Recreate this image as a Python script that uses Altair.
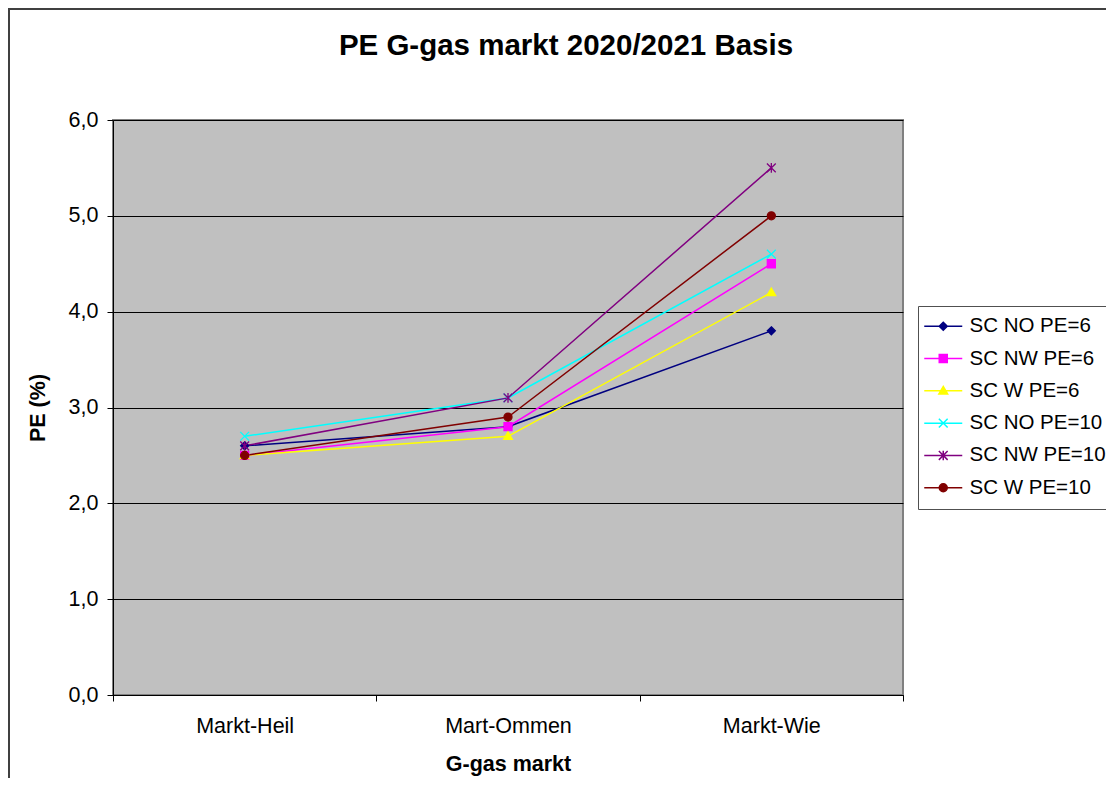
import altair as alt
import pandas as pd

markets = ["Markt-Heil", "Mart-Ommen", "Markt-Wie"]
series = ["SC NO PE=6", "SC NW PE=6", "SC W PE=6", "SC NO PE=10", "SC NW PE=10", "SC W PE=10"]
colors = ["#000080", "#FF00FF", "#FFFF00", "#00FFFF", "#800080", "#800000"]

no6 = [2.6, 2.8, 3.8]
nw6 = [2.5, 2.8, 4.5]
w6 = [2.5, 2.7, 4.2]
no10 = [2.7, 3.1, 4.6]
nw10 = [2.6, 3.1, 5.5]
w10 = [2.5, 2.9, 5.0]
values = [no6, nw6, w6, no10, nw10, w10]

rows = []
for s, vals in zip(series, values):
    for i, (m, v) in enumerate(zip(markets, vals)):
        rows.append({"market": m, "idx": i, "series": s, "value": v})
df = pd.DataFrame(rows)

# marker shapes (unit box -1..1)
diamond = "M0,-1L1,0L0,1L-1,0Z"
square = "M-1,-1L1,-1L1,1L-1,1Z"
triangle = "M0,-1.1L1.1,0.8L-1.1,0.8Z"
xmark = "M-1.1,-1.1L1.1,1.1M-1.1,1.1L1.1,-1.1"
aster = "M-1.1,-1.1L1.1,1.1M-1.1,1.1L1.1,-1.1M0,-1.2L0,1.2"
circle = "M1,0A1,1,0,1,1,-1,0A1,1,0,1,1,1,0Z"
markers = [diamond, square, triangle, xmark, aster, circle]
seg = "M-4.75,0L4.75,0"
legend_shapes = [seg + m for m in markers]

FONT = "Liberation Sans"
FS = 21.5

x_enc = alt.X(
    "market:N",
    sort=markets,
    bandPosition=0.5,
    scale=alt.Scale(type="band", paddingInner=0, paddingOuter=0),
    axis=alt.Axis(
        title="G-gas markt", tickBand="extent", labelAngle=0, grid=False,
        labelFontSize=FS, labelFont=FONT, labelColor="#000000",
        titleFontSize=FS, titleFont=FONT, titleFontWeight="bold", titleColor="#000000",
        tickColor="#000000", tickSize=6, domainColor="#000000",
        labelPadding=14, titlePadding=17,
    ),
)
y_enc = alt.Y(
    "value:Q",
    scale=alt.Scale(domain=[0, 6]),
    axis=alt.Axis(
        title="PE (%)", values=[0, 1, 2, 3, 4, 5, 6],
        labelExpr="replace(format(datum.value, '.1f'), '.', ',')",
        grid=True, gridColor="#000000", gridWidth=1,
        labelFontSize=FS, labelFont=FONT, labelColor="#000000",
        titleFontSize=FS, titleFont=FONT, titleFontWeight="bold", titleColor="#000000",
        tickColor="#000000", tickSize=6, domainColor="#000000",
        labelPadding=9, titlePadding=19,
    ),
)

base = alt.Chart(df)

lines = base.mark_line(strokeWidth=1.5).encode(
    x=x_enc, y=y_enc,
    stroke=alt.Stroke("series:N", scale=alt.Scale(domain=series, range=colors), legend=None),
    detail="series:N",
    order="idx:Q",
)

points = base.mark_point(filled=True, size=64, strokeWidth=1.3, opacity=1).encode(
    x=x_enc, y=y_enc,
    fill=alt.Fill("series:N", scale=alt.Scale(domain=series, range=colors), legend=None),
    stroke=alt.Stroke("series:N", scale=alt.Scale(domain=series, range=colors), legend=None),
    shape=alt.Shape("series:N", scale=alt.Scale(domain=series, range=markers), legend=None),
)

leg = alt.Legend(
    title=None, orient="none", legendX=805, legendY=186,
    fillColor="#FFFFFF", strokeColor="#505050", padding=10,
    labelFont=FONT, labelFontSize=20.5, labelColor="#000000",
    symbolSize=64, symbolStrokeWidth=1.5, symbolOffset=5, labelOffset=16,
    rowPadding=11.3, labelLimit=300,
)

legend_layer = base.transform_filter("false").mark_point(
    filled=True, size=64, strokeWidth=1.5, opacity=1
).encode(
    fill=alt.Fill("series:N", scale=alt.Scale(domain=series, range=colors), legend=leg),
    stroke=alt.Stroke("series:N", scale=alt.Scale(domain=series, range=colors), legend=leg),
    shape=alt.Shape("series:N", scale=alt.Scale(domain=series, range=legend_shapes), legend=leg),
)

frame = alt.Chart(alt.Data(values=[{"a": 1}])).mark_rect(
    filled=False, stroke="#404040", strokeWidth=2, clip=False
).encode(
    x=alt.value(-104), x2=alt.value(1300), y=alt.value(-111), y2=alt.value(900)
)

chart = alt.layer(frame, lines, points, legend_layer).resolve_scale(
    fill="independent", stroke="independent", shape="independent"
).properties(
    width=790, height=575,
    padding={"left": 105, "top": 112, "right": 203, "bottom": 83},
    autosize=alt.AutoSizeParams(type="none"),
    view=alt.ViewBackground(fill="#C0C0C0", stroke="#808080", strokeWidth=2),
    title=alt.TitleParams(
        "PE G-gas markt 2020/2021 Basis", font=FONT, fontSize=29.5, fontWeight="bold",
        color="#000000", anchor="middle", frame="group", dx=58, offset=-76,
        baseline="alphabetic",
    ),
).configure(
    background="#FFFFFF"
).configure_view(
    fill="#C0C0C0", stroke="#808080", strokeWidth=2
)

chart.save("out.html", embed_options={"renderer": "svg", "actions": False})
